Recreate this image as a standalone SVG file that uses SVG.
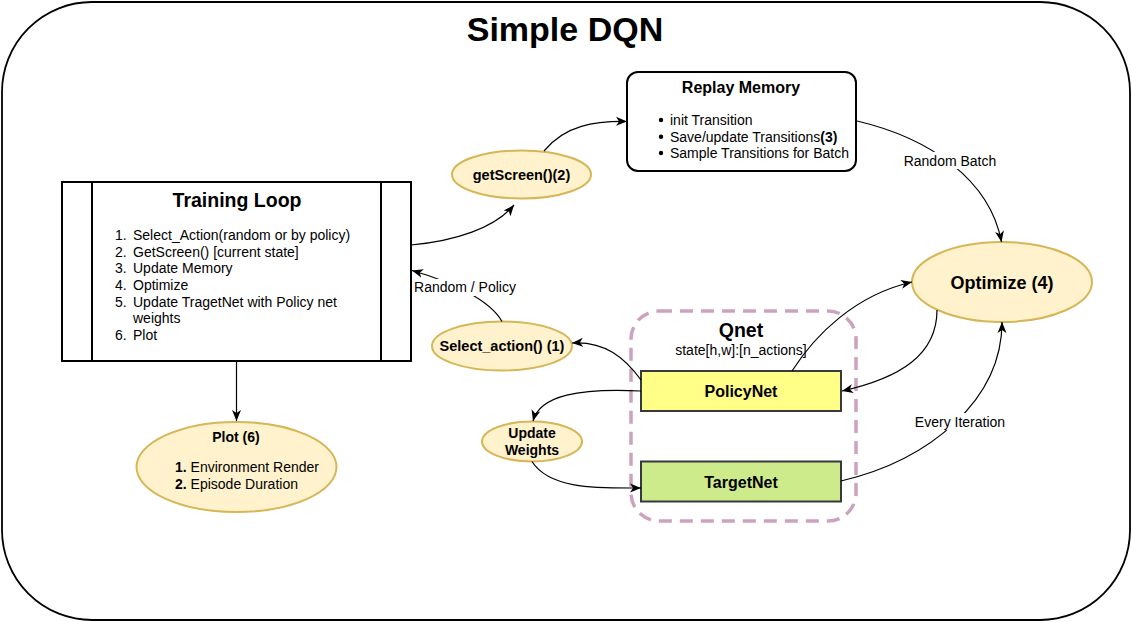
<svg xmlns="http://www.w3.org/2000/svg" width="1132" height="622" viewBox="0 0 1132 622">
<defs>
<marker id="arr" markerUnits="userSpaceOnUse" markerWidth="12" markerHeight="10" viewBox="0 0 12 10" refX="11" refY="5" orient="auto">
<path d="M0,0.5 L11,5 L0,9.5 L3,5 Z" fill="#000"/>
</marker>
<style>
text{font-family:"Liberation Sans",Arial,sans-serif;fill:#000}
.t14{font-size:14px}
.b{font-weight:bold}
.ell{fill:#fff2cc;stroke:#d6b656;stroke-width:2}
.edge{fill:none;stroke:#000;stroke-width:1.2;marker-end:url(#arr)}
.lbl{fill:#fff;stroke:none}
</style>
</defs>
<rect x="2" y="2" width="1128" height="618" rx="90" ry="90" fill="#fff" stroke="#000" stroke-width="1.8"/>
<text x="565" y="41" text-anchor="middle" class="b" style="font-size:34px">Simple DQN</text>

<g id="qnet">
<rect x="631" y="311" width="225" height="210" rx="28" ry="28" fill="none" stroke="#cda2be" stroke-width="3.5" stroke-dasharray="13 8"/>
<text x="741" y="337" text-anchor="middle" class="b" style="font-size:19.5px">Qnet</text>
<text x="741" y="355" text-anchor="middle" class="t14">state[h,w]:[n_actions]</text>
</g>

<g id="training-loop">
<rect x="62" y="182" width="349" height="179" fill="#fff" stroke="#000" stroke-width="2"/>
<line x1="92" y1="182" x2="92" y2="361" stroke="#000" stroke-width="2"/>
<line x1="381" y1="182" x2="381" y2="361" stroke="#000" stroke-width="2"/>
<text x="237" y="207" text-anchor="middle" class="b" style="font-size:19.5px">Training Loop</text>
<g class="t14">
<text x="115" y="240">1.</text><text x="133" y="240">Select_Action(random or by policy)</text>
<text x="115" y="256.7">2.</text><text x="133" y="256.7">GetScreen() [current state]</text>
<text x="115" y="273.3">3.</text><text x="133" y="273.3">Update Memory</text>
<text x="115" y="290">4.</text><text x="133" y="290">Optimize</text>
<text x="115" y="306.7">5.</text><text x="133" y="306.7">Update TragetNet with Policy net</text>
<text x="133" y="323.3">weights</text>
<text x="115" y="340">6.</text><text x="133" y="340">Plot</text>
</g>
</g>

<g id="replay-memory">
<rect x="627" y="72" width="229" height="99" rx="11" ry="11" fill="#fff" stroke="#000" stroke-width="2"/>
<text x="741" y="93" text-anchor="middle" class="b" style="font-size:16px">Replay Memory</text>
<circle cx="661" cy="120" r="2.2" fill="#000"/>
<circle cx="661" cy="136.7" r="2.2" fill="#000"/>
<circle cx="661" cy="153" r="2.2" fill="#000"/>
<text x="670" y="125" class="t14">init Transition</text>
<text x="670" y="141.7" class="t14">Save/update Transitions<tspan class="b">(3)</tspan></text>
<text x="670" y="158" class="t14">Sample Transitions for Batch</text>
</g>

<g id="getscreen">
<ellipse cx="521.5" cy="174.5" rx="69.5" ry="24" class="ell"/>
<text x="521.5" y="179.5" text-anchor="middle" class="b" style="font-size:14.5px">getScreen()(2)</text>
</g>

<g id="select-action">
<ellipse cx="502" cy="346" rx="70" ry="24.5" class="ell"/>
<text x="502" y="351" text-anchor="middle" class="b" style="font-size:14.5px">Select_action() (1)</text>
</g>

<g id="update-weights">
<ellipse cx="532" cy="441.5" rx="50" ry="20" class="ell"/>
<text x="532" y="438.3" text-anchor="middle" class="b t14">Update</text>
<text x="532" y="455" text-anchor="middle" class="b t14">Weights</text>
</g>

<g id="policynet">
<rect x="641" y="371" width="200" height="40" fill="#ffff88" stroke="#36393d" stroke-width="2"/>
<text x="741" y="396.5" text-anchor="middle" class="b" style="font-size:16px">PolicyNet</text>
</g>

<g id="targetnet">
<rect x="641" y="461.5" width="200" height="40" fill="#cdeb8b" stroke="#36393d" stroke-width="2"/>
<text x="741" y="487.5" text-anchor="middle" class="b" style="font-size:16px">TargetNet</text>
</g>

<g id="optimize">
<ellipse cx="1002" cy="282" rx="90" ry="40" class="ell"/>
<text x="1002" y="288.5" text-anchor="middle" class="b" style="font-size:18px">Optimize (4)</text>
</g>

<g id="plot">
<ellipse cx="236.5" cy="467" rx="100" ry="45" class="ell"/>
<text x="236" y="442" text-anchor="middle" class="b t14">Plot (6)</text>
<text x="175" y="472" class="t14"><tspan class="b">1.</tspan> Environment Render</text>
<text x="175" y="489" class="t14"><tspan class="b">2.</tspan> Episode Duration</text>
</g>

<g id="connectors">
<path class="edge" d="M236.5,361 L236.5,421"/>
<path class="edge" d="M411,245 C455,241 495,228 514,205"/>
<path class="edge" d="M544,151 C565,125 595,121 627,121.5"/>
<path class="edge" d="M857,121 C930,138 990,180 1001.5,242"/>
<path class="edge" d="M502,321.5 C490,300 452,282 412,270.5"/>
<path class="edge" d="M641,380 C625,358 605,341 572,343"/>
<path class="edge" d="M641,391 C580,388 540,395 533,421"/>
<path class="edge" d="M532,461.5 C550,490 600,488 641,488"/>
<path class="edge" d="M792,371 C815,335 855,295 912,282"/>
<path class="edge" d="M937,310 C937,355 900,378 842,391"/>
<path class="edge" d="M841,481 C930,460 1002,400 1002,322"/>
<rect class="lbl" x="413" y="279" width="104" height="17"/>
<text x="465" y="292" text-anchor="middle" class="t14">Random / Policy</text>
<rect class="lbl" x="902" y="152" width="96" height="17"/>
<text x="950" y="165.5" text-anchor="middle" class="t14">Random Batch</text>
<rect class="lbl" x="913" y="413" width="94" height="17"/>
<text x="960" y="426.5" text-anchor="middle" class="t14">Every Iteration</text>
</g>
</svg>
